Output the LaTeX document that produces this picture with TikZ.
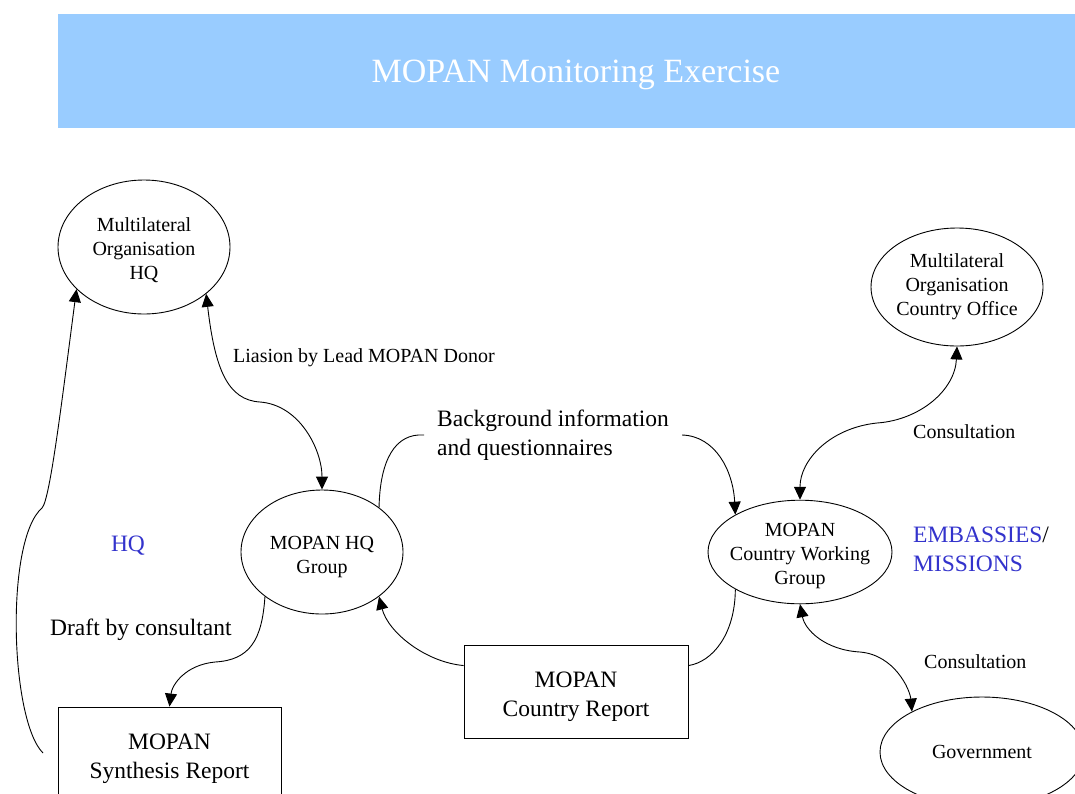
\documentclass[tikz,border=0pt]{standalone}
\usepackage{fontspec}
\setmainfont{Liberation Serif}
\usetikzlibrary{arrows.meta,shapes.geometric}
\definecolor{bandblue}{HTML}{99CCFF}
\definecolor{labelblue}{HTML}{3333CC}
\newcommand{\smalltxt}{\fontsize{20}{24}\selectfont}
\newcommand{\bigtxt}{\fontsize{23.5}{29}\selectfont}
\newcommand{\drop}[1]{\rule{0pt}{#1}}

\begin{document}
\begin{tikzpicture}[x=1pt,y=-1pt,
    oval/.style={draw,ellipse,inner sep=0pt,align=center,font=\smalltxt,line width=0.9pt},
    report/.style={draw,rectangle,inner sep=0pt,align=center,font=\bigtxt,line width=0.9pt},
    link/.style={line width=0.9pt},
    arr/.style={link,-{Triangle[length=13pt,width=12pt]}},
    dblarr/.style={link,{Triangle[length=13pt,width=12pt]}-{Triangle[length=13pt,width=12pt]}},
    lbl/.style={inner sep=0pt,anchor=west}]
    \clip (0,0) rectangle (1075,793);
    \fill[bandblue] (58,14) rectangle (1075,128);
    \node[text=white,font=\fontsize{34}{40}\selectfont] (title) at (576,75) {MOPAN Monitoring Exercise};

    \node[oval,minimum width=172pt,minimum height=134pt] (mohq) at (144,247) {\drop{20pt}Multilateral\\Organisation\\HQ};
    \node[oval,minimum width=172pt,minimum height=118pt] (moco) at (957,287) {Multilateral\\Organisation\\Country Office};
    \node[oval,minimum width=162pt,minimum height=124pt] (hqgrp) at (322,552) {\drop{23.5pt}MOPAN HQ\\Group};
    \node[oval,inner xsep=-8pt,minimum width=184pt,minimum height=102pt] (cwg) at (800,552) {\drop{21pt}MOPAN\\Country Working\\Group};
    \node[oval,minimum width=204pt,minimum height=110pt] (govt) at (982,752) {Government};
    \node[report,minimum width=223pt,minimum height=96pt] (synth) at (169.5,755) {\drop{23.5pt}MOPAN\\Synthesis Report};
    \node[report,minimum width=224pt,minimum height=93pt] (crep) at (576,691.5) {\drop{25.5pt}MOPAN\\Country Report};

    \node[lbl,font=\smalltxt] (liaison) at (233,358) {Liasion by Lead MOPAN Donor};
    \node[lbl,font=\bigtxt,align=left,inner xsep=13pt] (bgtxt) at (424,435) {Background information\\and questionnaires};
    \node[lbl,font=\bigtxt] (draft) at (50,630) {Draft by consultant};
    \node[lbl,font=\smalltxt] (consult1) at (913,432) {Consultation};
    \node[lbl,font=\smalltxt] (consult2) at (924,662) {Consultation};
    \node[inner sep=0pt,font=\bigtxt,text=labelblue] (hqtxt) at (128,546) {HQ};
    \node[lbl,font=\bigtxt,text=labelblue,align=left] (embtxt) at (913,549) {EMBASSIES\textcolor{black}{/}\\MISSIONS};

    \coordinate (loopstart) at (43,753);

    \draw[arr] (loopstart) .. controls (10,720) and (5,540) .. (42,508)
        .. controls (50,500) and (62,400) .. (mohq.212);
    \draw[dblarr] (mohq.-37) .. controls (215,370) and (228,400) .. (260,402)
        .. controls (300,405) and (322,450) .. (hqgrp.north);
    \draw[link] (hqgrp.38) .. controls (380,460) and (395,433) .. (bgtxt.west);
    \draw[arr] (bgtxt.east) .. controls (715,436) and (733,470) .. (cwg.150);
    \draw[arr] (crep.167) .. controls (425,662) and (388,632) .. (hqgrp.-38);
    \draw[link] (crep.13) .. controls (712,662) and (735,635) .. (cwg.210);
    \draw[arr] (hqgrp.218) .. controls (262,640) and (250,660) .. (215,662)
        .. controls (185,665) and (172,685) .. (synth.north);
    \draw[dblarr] (moco.south) .. controls (955,390) and (920,420) .. (877,423)
        .. controls (830,428) and (800,460) .. (cwg.north);
    \draw[dblarr] (cwg.south) .. controls (805,630) and (825,650) .. (860,652)
        .. controls (895,655) and (910,690) .. (govt.150);
\end{tikzpicture}
\end{document}
